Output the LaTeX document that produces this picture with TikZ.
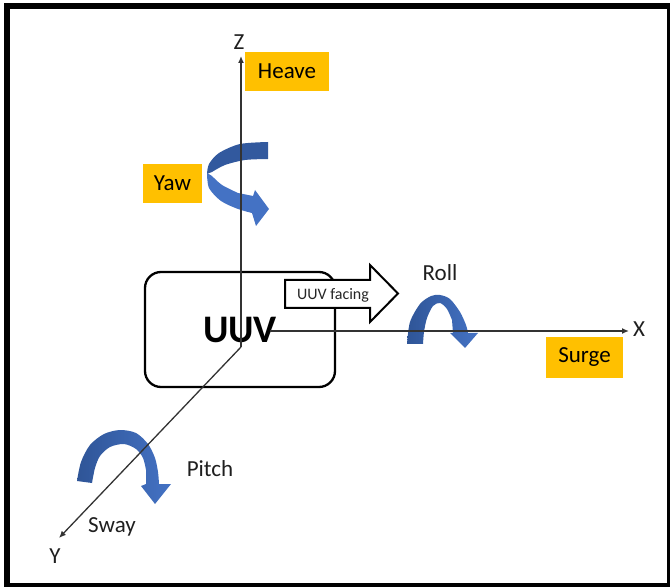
\documentclass[tikz,border=0pt]{standalone}
\usepackage{fontspec}
\setmainfont{Carlito}
\usetikzlibrary{arrows.meta}
\definecolor{tagorange}{HTML}{FFC000}
\definecolor{rotdark}{HTML}{2F5597}
\definecolor{rotlight}{HTML}{4472C4}
\begin{document}
\begin{tikzpicture}[x=1pt,y=-1pt,
    axis/.style={draw=black!80,line width=1.3pt,-{Latex[length=7pt,width=6pt]}},
    tag/.style={fill=tagorange,inner sep=0pt,minimum width=#1,minimum height=39pt,font=\fontsize{23}{27}\selectfont},
    lbl/.style={font=\fontsize{23}{27}\selectfont,text=black!88}]
  \useasboundingbox (0,0) rectangle (670,588);
  % frame
  \fill (4,3) rectangle (670,9);
  \fill (4,3) rectangle (10,587);
  \fill (4,583) rectangle (670,587);
  \fill (667,3) rectangle (670,587);

  % vehicle body and heading
  \node[draw,line width=2.3pt,rounded corners=16pt,minimum width=190pt,minimum height=115pt,
        font=\fontsize{39}{44}\selectfont\bfseries] (uuv) at (240,329.5) {UUV};
  \draw[line width=2pt,fill=white] (285,280) -- (370,280) -- (370,265) -- (398,293.5)
        -- (370,322) -- (370,308) -- (285,308) -- cycle;
  \node[font=\fontsize{16}{19}\selectfont,text=black!85] (facing) at (333,295) {UUV facing};

  % rotation arrows
  \fill[rotdark!85!rotlight] plot[smooth] coordinates {(268,142) (240,144) (219,153) (209,164) (207,174)}
        -- plot[smooth] coordinates {(212,172) (225,165) (245,160) (268,159)} -- cycle;
  \fill[rotlight] plot[smooth] coordinates {(207,173) (209,188) (221,201) (238,209) (252,213)}
        -- (256,226) -- (269,209) -- (255,190) -- (253,196)
        -- plot[smooth] coordinates {(238,193) (222,185) (212,176)} -- cycle;
  \path[left color=rotdark,right color=rotlight]
        plot[smooth] coordinates {(407,344) (410,322) (420,304) (431,296) (440,295) (450,299) (460,312) (466,325) (468,333)}
        -- (478,333) -- (465,348) -- (450,333) -- (453,333)
        -- plot[smooth] coordinates {(452,320) (447,309) (440,303) (433,306) (427,318) (424,332) (423,344)} -- cycle;
  \path[left color=rotdark,right color=rotlight]
        plot[smooth] coordinates {(77,481) (81,462) (90,445) (104,434) (120,430) (136,433) (148,444) (155,458) (158,472) (159,484)}
        -- (171,484) -- (155,504) -- (141,486) -- (146,484)
        -- plot[smooth] coordinates {(146,470) (143,458) (136,449) (124,444) (110,447) (100,456) (95,468) (92,483)} -- cycle;

  % axes
  \coordinate (O) at (241,347);
  \coordinate (Xs) at (270,331);
  \coordinate (zt) at (241,56);
  \coordinate (xt) at (629,331);
  \coordinate (yt) at (59,538);
  \draw[axis] (O) -- (zt);
  \draw[axis] (Xs) -- (xt);
  \draw[axis] (O) -- (yt);
  \node[lbl] (zlab) at (239,42) {Z};
  \node[lbl] (xlab) at (639,329) {X};
  \node[lbl] (ylab) at (55,556) {Y};

  % motion names
  \node[tag=84pt] (heave) at (287,71.5) {Heave};
  \node[tag=59pt] (yaw) at (172.5,183.5) {Yaw};
  \node[tag=77pt,minimum height=41pt] (surge) at (584.5,357.5) {Surge};
  \node[lbl] (roll) at (440,273) {Roll};
  \node[lbl] (pitch) at (210,469) {Pitch};
  \node[lbl] (sway) at (112,527) {Sway};
\end{tikzpicture}
\end{document}
